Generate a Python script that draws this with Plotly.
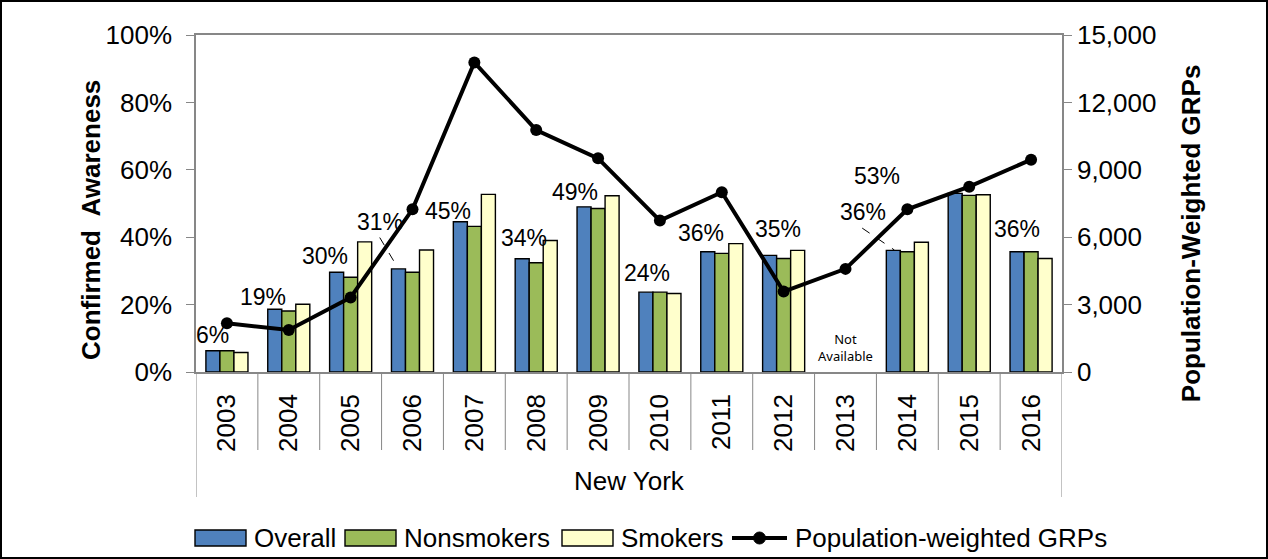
import plotly.graph_objects as go

# ---------------- data ----------------
years = ["2003", "2004", "2005", "2006", "2007", "2008", "2009",
         "2010", "2011", "2012", "2013", "2014", "2015", "2016"]
overall = [6.3, 18.6, 29.6, 30.6, 44.6, 33.6, 49.0, 23.7, 35.7, 34.6, None, 36.1, 53.0, 35.7]
nonsmokers = [6.3, 18.1, 28.1, 29.6, 43.2, 32.4, 48.5, 23.7, 35.2, 33.7, None, 35.7, 52.4, 35.7]
smokers = [5.8, 20.1, 38.6, 36.2, 52.7, 39.0, 52.3, 23.3, 38.1, 36.1, None, 38.5, 52.6, 33.7]
grps = [2170, 1870, 3320, 7240, 13780, 10770, 9510, 6740, 8000, 3580, 4590, 7240, 8250, 9450]
missing_note = {"2013": "Not<br>Available"}

# ---------------- style ----------------
W, H = 1268, 559
ML, MR, MT, MB = 196, 206, 35, 187
PW, PH = W - ML - MR, H - MT - MB
FONT = "Liberation Sans, Arial, sans-serif"
FS = 26
AX_GRAY = "#878787"
COLORS = {"Overall": "#4F81BD", "Nonsmokers": "#9BBB59", "Smokers": "#FFFFCC"}
# label offsets in pixels (dx, dy up) relative to category centre / bar top
label_off = {"2003": (-14, 16), "2004": (-26, 12), "2005": (-26, 16), "2006": (-33, 47),
             "2007": (-26, 11), "2008": (-12, 21), "2009": (-23, 15), "2010": (-13, 19),
             "2011": (-21, 19), "2012": (-6, 26), "2014": (-44, 38), "2015": (-92, 17),
             "2016": (-14, 23)}
# leader lines: (dx0 cat, dy0 %, dx1 cat, dy1 %) relative to category index / bar value
leaders = {"2006": (-0.53, 9.3, -0.24, 0.4), "2014": (-0.73, 6.6, -0.21, 0.1)}
# hand-drawn legend layout (pixel x of each symbol start, symbol width)
legend_x = {"Overall": 195, "Nonsmokers": 345, "Smokers": 562, "Population-weighted GRPs": 732}
LEG_Y, SYM_W, SYM_H, TXT_GAP = 538, 51, 16, 6


def px(x):
    return (x - ML) / PW


def py(y):
    return (MT + PH - y) / PH


fig = go.Figure()
bar_line = dict(color="#000000", width=1.4)
for name, vals in (("Overall", overall), ("Nonsmokers", nonsmokers), ("Smokers", smokers)):
    fig.add_trace(go.Bar(x=years, y=vals, name=name,
                         marker=dict(color=COLORS[name], line=bar_line)))
fig.add_trace(go.Scatter(x=years, y=grps, name="Population-weighted GRPs", yaxis="y2",
                         mode="lines+markers",
                         line=dict(color="#000000", width=4),
                         marker=dict(color="#000000", size=12)))

annotations = []
for i, (yr, v) in enumerate(zip(years, overall)):
    if v is None or yr not in label_off:
        continue
    dx, dy = label_off[yr]
    annotations.append(dict(x=i, y=v, xref="x", yref="y", text=f"{v:.0f}%",
                            showarrow=False, xshift=dx, yshift=dy,
                            xanchor="center", yanchor="middle",
                            font=dict(family=FONT, size=23, color="#000000")))

for yr, txt in missing_note.items():
    annotations.append(dict(x=years.index(yr), y=0, xref="x", yref="y", text=txt,
                            showarrow=False, yanchor="bottom", yshift=5,
                            font=dict(family="Noto Sans, sans-serif", size=13, color="#000000")))

annotations.append(dict(x=0.5, y=py(481), xref="paper", yref="paper", text="New York",
                        showarrow=False, xanchor="center", yanchor="middle",
                        font=dict(family=FONT, size=FS, color="#000000")))
annotations.append(dict(x=px(91), y=0.451, xref="paper", yref="paper",
                        text="Confirmed  Awareness", textangle=-90, showarrow=False,
                        xanchor="center", yanchor="middle",
                        font=dict(family=FONT, size=FS, color="#000000", weight="bold")))
annotations.append(dict(x=px(1191), y=0.412, xref="paper", yref="paper",
                        text="Population-Weighted GRPs", textangle=-90, showarrow=False,
                        xanchor="center", yanchor="middle",
                        font=dict(family=FONT, size=FS, color="#000000", weight="bold")))

shapes = []
# category dividers below the axis
for k in range(len(years) + 1):
    outer = k in (0, len(years))
    shapes.append(dict(type="line", xref="x", yref="paper", x0=k - 0.5, x1=k - 0.5,
                       y0=0, y1=-(125 if outer else 78) / PH,
                       line=dict(color=AX_GRAY, width=1)))
# leader lines
for yr, (a0, b0, a1, b1) in leaders.items():
    i = years.index(yr)
    v = overall[i]
    shapes.append(dict(type="line", xref="x", yref="y", x0=i + a0, y0=v + b0,
                       x1=i + a1, y1=v + b1,
                       line=dict(color="#000000", width=1, dash="dash")))

# legend (drawn by hand to get Excel-style wide swatches)
for tr in fig.data:
    x0 = legend_x[tr.name]
    if tr.type == "bar":
        shapes.append(dict(type="rect", xref="paper", yref="paper",
                           x0=px(x0), x1=px(x0 + SYM_W),
                           y0=py(LEG_Y + SYM_H / 2), y1=py(LEG_Y - SYM_H / 2),
                           fillcolor=tr.marker.color, line=dict(color="#000000", width=1.4)))
    else:
        shapes.append(dict(type="line", xref="paper", yref="paper",
                           x0=px(x0), x1=px(x0 + 55), y0=py(LEG_Y), y1=py(LEG_Y),
                           line=dict(color="#000000", width=4)))
        cx = x0 + 27.5
        shapes.append(dict(type="circle", xref="paper", yref="paper",
                           x0=px(cx - 6), x1=px(cx + 6), y0=py(LEG_Y + 6), y1=py(LEG_Y - 6),
                           fillcolor="#000000", line=dict(color="#000000", width=1)))
    tx = x0 + (SYM_W if tr.type == "bar" else 55) + TXT_GAP
    annotations.append(dict(x=px(tx), y=py(LEG_Y), xref="paper", yref="paper", text=tr.name,
                            showarrow=False, xanchor="left", yanchor="middle",
                            font=dict(family=FONT, size=FS, color="#000000")))

# outer border of the figure
shapes.append(dict(type="rect", xref="paper", yref="paper",
                   x0=-(ML - 1) / PW, x1=1 + (MR - 1) / PW,
                   y0=-(MB - 1) / PH, y1=1 + (MT - 1) / PH,
                   line=dict(color="#000000", width=2), fillcolor="rgba(0,0,0,0)"))

fig.update_layout(
    width=W, height=H,
    margin=dict(l=ML, r=MR, t=MT, b=MB, pad=0),
    paper_bgcolor="#FFFFFF", plot_bgcolor="#FFFFFF",
    barmode="group", bargap=0.32, bargroupgap=0,
    font=dict(family=FONT, size=FS, color="#000000"),
    showlegend=False,
    xaxis=dict(type="category", categoryorder="array", categoryarray=years,
               range=[-0.5, len(years) - 0.5], automargin=False,
               showline=True, linecolor=AX_GRAY, linewidth=1.5, mirror=True,
               ticks="", tickangle=-90, ticklabelstandoff=10,
               tickfont=dict(family=FONT, size=FS, color="#000000"),
               showgrid=False, zeroline=False),
    yaxis=dict(range=[0, 100], dtick=20, ticksuffix="%", automargin=False,
               showline=True, linecolor=AX_GRAY, linewidth=1.5,
               ticks="outside", ticklen=8, tickcolor=AX_GRAY, tickwidth=1,
               ticklabelstandoff=9,
               tickfont=dict(family=FONT, size=FS, color="#000000"),
               showgrid=False, zeroline=False),
    yaxis2=dict(range=[0, 15000], dtick=3000, tickformat=",d", overlaying="y", side="right",
                automargin=False,
                showline=True, linecolor=AX_GRAY, linewidth=1.5,
                ticks="outside", ticklen=8, tickcolor=AX_GRAY, tickwidth=1,
                ticklabelstandoff=0,
                tickfont=dict(family=FONT, size=FS, color="#000000"),
                showgrid=False, zeroline=False),
    annotations=annotations,
    shapes=shapes,
)

fig.write_html("out.html", config={"displayModeBar": False},
               post_script="document.body.style.margin='0px';document.body.style.overflow='hidden';")
